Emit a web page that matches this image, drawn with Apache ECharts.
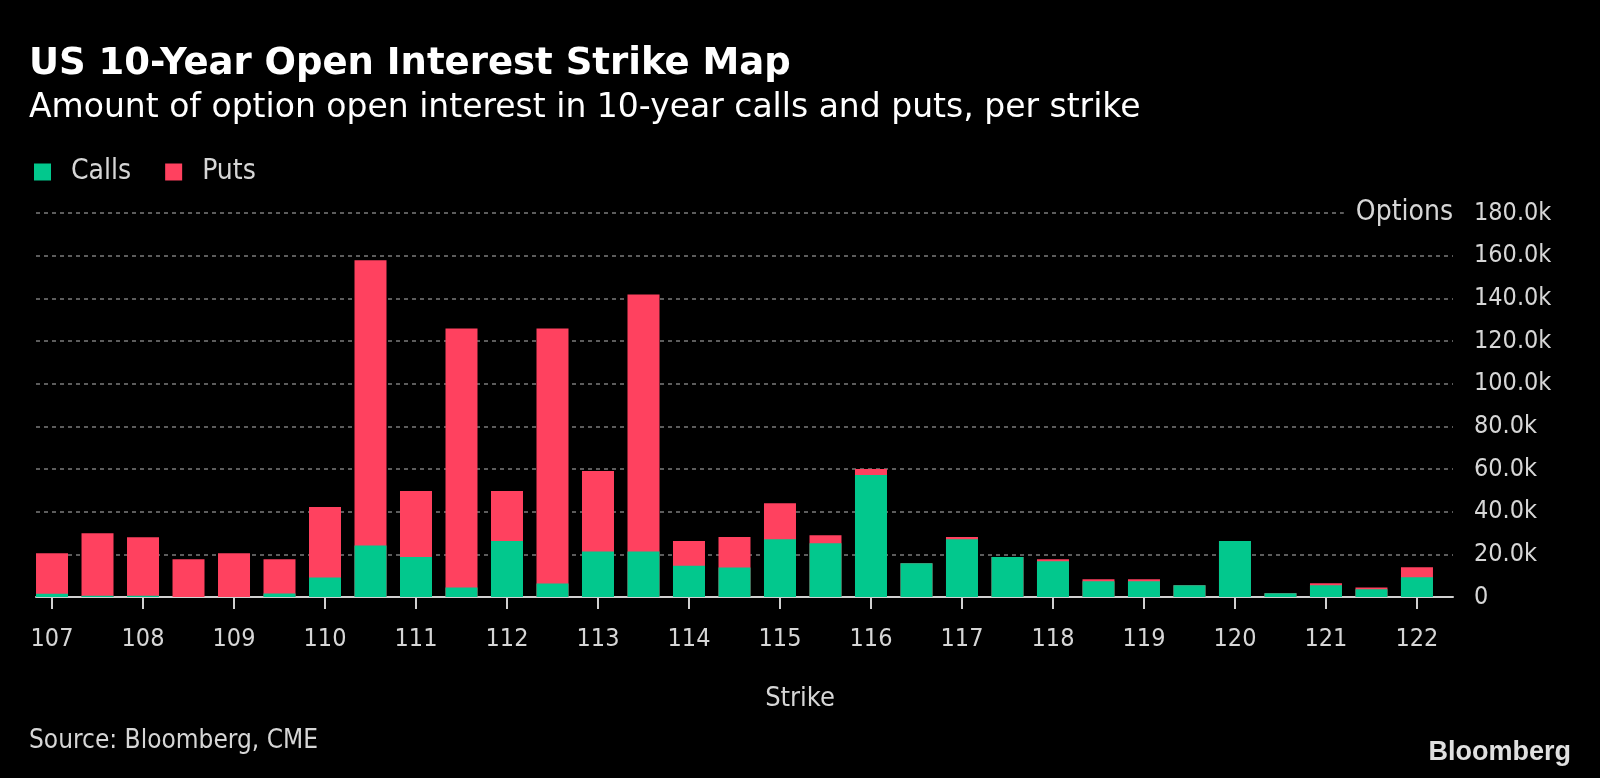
<!DOCTYPE html>
<html>
<head>
<meta charset="utf-8">
<script src="https://cdn.jsdelivr.net/npm/echarts@6/dist/echarts.min.js"></script>
<style>
html,body{margin:0;padding:0;background:#000;}
#c{width:1600px;height:778px;}
</style>
</head>
<body>
<div id="c"></div>
<script>
const strikes = [107,107.5,108,108.5,109,109.5,110,110.5,111,111.5,112,112.5,113,113.5,114,114.5,115,115.5,116,116.5,117,117.5,118,118.5,119,119.5,120,120.5,121,121.5,122];
const calls = [1500,600,600,0,0,1600,9100,24100,18700,4400,26200,6300,21300,21300,14700,13800,27100,25200,57200,15800,27100,18700,16800,7400,7400,5500,26200,1700,5500,3600,9200];
const puts = [19000,29300,27400,17700,20500,16100,33100,133700,31000,121500,23500,119600,37800,120500,11500,14300,16900,3800,2800,0,1000,0,900,900,900,0,0,0,900,900,4800];
const xTickLabels = [107,108,109,110,111,112,113,114,115,116,117,118,119,120,121,122];

const FONT = '"DejaVu Sans Condensed", "DejaVu Sans", sans-serif';
const FONT_W = '"DejaVu Sans", sans-serif';
const TXT = '#d6d6d6';
const GREEN = '#02c88d';
const RED = '#ff415f';

// top of each stacked bar = calls + puts (puts drawn behind, calls in front)
const totals = calls.map((c, i) => c + puts[i]);

const chart = echarts.init(document.getElementById('c'));
chart.setOption({
  backgroundColor: '#000',
  animation: false,
  textStyle: { fontFamily: FONT },
  title: [
    { text: 'US 10-Year Open Interest Strike Map', left: 24, top: 41,
      textStyle: { color: '#fff', fontSize: 37, fontWeight: 'bold', fontFamily: FONT_W } },
    { text: 'Amount of option open interest in 10-year calls and puts, per strike', left: 24, top: 87,
      textStyle: { color: '#fff', fontSize: 33, fontWeight: 'normal', fontFamily: FONT_W } },
    { text: 'Source: Bloomberg, CME', left: 24, top: 723,
      textStyle: { color: TXT, fontSize: 26, fontWeight: 'normal', fontFamily: FONT } },
    { text: 'Bloomberg', right: 24, top: 734,
      textStyle: { color: '#e0e0e0', fontSize: 27, fontWeight: 'bold', fontFamily: '"Liberation Sans", Arial, sans-serif' } }
  ],
  legend: {
    left: 29, top: 153,
    icon: 'rect', itemWidth: 17, itemHeight: 17, itemGap: 34,
    textStyle: { color: TXT, fontSize: 28, fontFamily: FONT, padding: [0, 0, 0, 15] },
    data: ['Calls', 'Puts']
  },
  grid: { left: 36, right: 147, top: 213, bottom: 181, containLabel: false },
  xAxis: {
    type: 'value',
    min: 106.824, max: 122.396,
    name: 'Strike', nameLocation: 'middle', nameGap: 88,
    nameTextStyle: { color: TXT, fontSize: 27, fontFamily: FONT, padding: [0, 0, 0, 111] },
    axisLine: { show: true, onZero: false, lineStyle: { color: '#d0d0d0', width: 2 } },
    axisTick: { show: true, length: 12, customValues: xTickLabels, lineStyle: { color: '#d0d0d0', width: 2 } },
    axisLabel: { color: TXT, fontSize: 25, margin: 30, customValues: xTickLabels, fontFamily: FONT,
      formatter: v => String(v) },
    splitLine: { show: false }
  },
  yAxis: {
    type: 'value', position: 'right',
    min: 0, max: 180000, interval: 20000,
    name: 'Options', nameLocation: 'end', nameGap: 0,
    nameTextStyle: { color: TXT, fontSize: 28, fontFamily: FONT, align: 'right', verticalAlign: 'middle',
      backgroundColor: '#000', padding: [4, 0, 4, 12] },
    axisLine: { show: false }, axisTick: { show: false },
    axisLabel: { color: TXT, fontSize: 25, margin: 21, fontFamily: FONT,
      formatter: v => v === 0 ? '0' : (v / 1000).toFixed(1) + 'k' },
    splitLine: { show: true, lineStyle: { color: '#5c5c5c', width: 2, type: [4, 4] } }
  },
  series: [
    { name: 'Puts', type: 'bar', barWidth: 32, barGap: '-100%', itemStyle: { color: RED }, z: 2,
      data: strikes.map((s, i) => [s, totals[i]]) },
    { name: 'Calls', type: 'bar', barWidth: 32, barGap: '-100%', itemStyle: { color: GREEN }, z: 3,
      data: strikes.map((s, i) => [s, calls[i]]) }
  ]
});
</script>
</body>
</html>
